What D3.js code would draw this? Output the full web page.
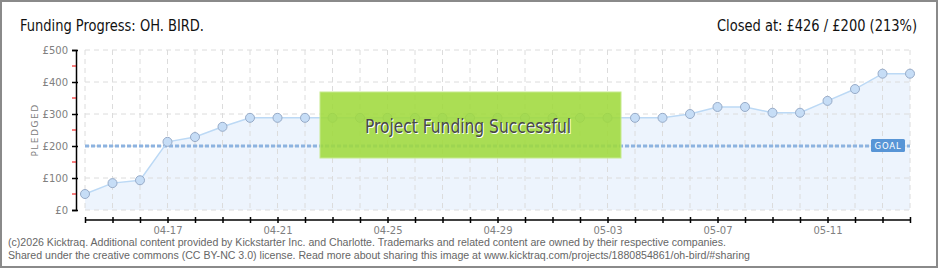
<!DOCTYPE html>
<html>
<head>
<meta charset="utf-8">
<script src="https://cdn.jsdelivr.net/npm/d3@7"></script>
<style>
  html, body { margin: 0; padding: 0; background: #fff; }
  svg { display: block; }
</style>
</head>
<body>
<svg id="chart"></svg>
<script>
// days of the campaign (MM-DD)
const days = ['04-14','04-15','04-16','04-17','04-18','04-19','04-20','04-21','04-22','04-23',
  '04-24','04-25','04-26','04-27','04-28','04-29','04-30','05-01','05-02','05-03',
  '05-04','05-05','05-06','05-07','05-08','05-09','05-10','05-11','05-12','05-13','05-14']
// pledged total per day (GBP)
const pledged = [50, 84, 93, 213, 228, 260, 288, 288, 288, 288,
  288, 288, 288, 288, 288, 288, 288, 288, 288, 288,
  288, 288, 300, 322, 322, 304, 304, 341, 378, 426, 426]
const xLabels = ['04-17','04-21','04-25','04-29','05-03','05-07','05-11']
const yTicks = [0, 100, 200, 300, 400, 500]
const yMinor = [50, 150, 250, 350, 450]
const goal = 200

const W = 940, H = 270
const headFont = 'Liberation Sans Narrow, DejaVu Sans Condensed, sans-serif'
const svg = d3.select('#chart').attr('width', W).attr('height', H)

// frame
svg.append('rect')
  .attr('x', 1).attr('y', 1).attr('width', 936).attr('height', 266)
  .attr('fill', '#fff').attr('stroke', '#8a8a8a').attr('stroke-width', 2)

// headings
svg.append('text')
  .attr('x', 20).attr('y', 31)
  .attr('font-family', headFont)
  .attr('font-size', 16).attr('fill', '#111')
  .attr('textLength', 184).attr('lengthAdjust', 'spacingAndGlyphs')
  .text('Funding Progress: OH. BIRD.')
svg.append('text')
  .attr('x', 917).attr('y', 31).attr('text-anchor', 'end')
  .attr('font-family', headFont)
  .attr('font-size', 16).attr('fill', '#111')
  .attr('textLength', 200).attr('lengthAdjust', 'spacingAndGlyphs')
  .text('Closed at:  £426 /  £200 (213%)')

// scales
const x = d3.scalePoint().domain(days).range([85, 910])
const y = d3.scaleLinear().domain([0, 500]).range([210, 50])

// area under the line
svg.append('path')
  .datum(pledged)
  .attr('fill', '#edf4fd')
  .attr('d', d3.area().x((d, i) => x(days[i])).y0(y(0)).y1(d => y(d)))

// grid
const grid = svg.append('g').attr('stroke', '#dcdcdc').attr('stroke-dasharray', '5,4')
grid.selectAll('line.v').data(days).enter().append('line')
  .attr('x1', d => x(d)).attr('x2', d => x(d))
  .attr('y1', y(500)).attr('y2', y(0))
grid.selectAll('line.h').data(yTicks).enter().append('line')
  .attr('x1', x(days[0])).attr('x2', x(days[days.length - 1]))
  .attr('y1', d => y(d)).attr('y2', d => y(d))

// y axis
const yAxis = svg.append('g')
  .attr('transform', 'translate(76,0)')
  .call(d3.axisLeft(y).tickValues(yTicks).tickSize(4).tickFormat(d => '£' + d))
yAxis.select('.domain').attr('stroke', '#000').attr('stroke-width', 1.5)
yAxis.selectAll('.tick line').attr('stroke', '#000').attr('stroke-width', 1.5).attr('x2', 2).attr('x1', -4)
yAxis.selectAll('.tick text')
  .attr('x', -8).attr('fill', '#808080')
  .attr('font-family', 'DejaVu Sans, sans-serif').attr('font-size', 10)
svg.append('g').selectAll('line').data(yMinor).enter().append('line')
  .attr('x1', 72).attr('x2', 76)
  .attr('y1', d => y(d)).attr('y2', d => y(d))
  .attr('stroke', '#e00').attr('stroke-width', 1)

svg.append('text')
  .attr('transform', 'translate(38,130) rotate(-90)')
  .attr('text-anchor', 'middle')
  .attr('font-family', 'DejaVu Sans, sans-serif').attr('font-size', 9)
  .attr('letter-spacing', 1.5).attr('fill', '#808080')
  .text('PLEDGED')

// x axis
const xAxis = svg.append('g')
  .attr('transform', 'translate(0,220)')
  .call(d3.axisBottom(x).tickSize(4).tickSizeOuter(0).tickFormat(d => xLabels.includes(d) ? d : ''))
xAxis.select('.domain').attr('stroke', '#000').attr('stroke-width', 1.5)
  .attr('d', `M${x(days[0])},0H${x(days[days.length - 1])}`)
xAxis.selectAll('.tick line').attr('stroke', '#000').attr('stroke-width', 1.5).attr('y1', -3).attr('y2', 3)
xAxis.selectAll('.tick text')
  .attr('y', 7).attr('fill', '#808080')
  .attr('font-family', 'DejaVu Sans, sans-serif').attr('font-size', 10)

// goal line
svg.append('line')
  .attr('x1', x(days[0])).attr('x2', x(days[days.length - 1]))
  .attr('y1', y(goal)).attr('y2', y(goal))
  .attr('stroke', '#8db3e0').attr('stroke-width', 3).attr('stroke-dasharray', '4,2')

// pledged line and points
svg.append('path')
  .datum(pledged)
  .attr('fill', 'none').attr('stroke', '#bcd9f5').attr('stroke-width', 1.5)
  .attr('d', d3.line().x((d, i) => x(days[i])).y(d => y(d)))
svg.append('g').selectAll('circle').data(pledged).enter().append('circle')
  .attr('cx', (d, i) => x(days[i])).attr('cy', d => y(d)).attr('r', 4.5)
  .attr('fill', '#c6ddf6').attr('stroke', '#97abc8').attr('stroke-width', 1)

// goal tag
const tag = svg.append('g').attr('transform', `translate(871,${y(goal) - 7})`)
tag.append('rect').attr('width', 34).attr('height', 13).attr('rx', 1.5).attr('fill', '#5895d6')
tag.append('text')
  .attr('x', 17).attr('y', 10).attr('text-anchor', 'middle')
  .attr('font-family', 'DejaVu Sans, sans-serif').attr('font-size', 8.5)
  .attr('fill', '#fff').attr('letter-spacing', 0.8)
  .text('GOAL')

// success banner
svg.append('rect')
  .attr('x', 320).attr('y', 92).attr('width', 301).attr('height', 66)
  .attr('fill', '#9fd93c').attr('fill-opacity', 0.88)
  .attr('stroke', '#c6ea8e').attr('stroke-width', 1)
const banner = 'Project Funding Successful'
svg.append('text')
  .attr('x', 469).attr('y', 134).attr('text-anchor', 'middle')
  .attr('font-family', headFont)
  .attr('font-size', 19).attr('fill', '#fff')
  .attr('textLength', 206).attr('lengthAdjust', 'spacingAndGlyphs')
  .text(banner)
svg.append('text')
  .attr('x', 468).attr('y', 133).attr('text-anchor', 'middle')
  .attr('font-family', headFont)
  .attr('font-size', 19).attr('fill', '#484848')
  .attr('textLength', 206).attr('lengthAdjust', 'spacingAndGlyphs')
  .text(banner)

// footer
const footer = [
  '(c)2026 Kicktraq. Additional content provided by Kickstarter Inc. and Charlotte. Trademarks and related content are owned by their respective companies.',
  'Shared under the creative commons (CC BY-NC 3.0) license. Read more about sharing this image at www.kicktraq.com/projects/1880854861/oh-bird/#sharing'
]
svg.append('g').selectAll('text').data(footer).enter().append('text')
  .attr('x', 8).attr('y', (d, i) => 246 + i * 13)
  .attr('font-family', 'Liberation Sans, sans-serif').attr('font-size', 10)
  .attr('fill', '#666')
  .attr('textLength', (d, i) => i ? 742 : 718).attr('lengthAdjust', 'spacingAndGlyphs')
  .text(d => d)
</script>
</body>
</html>
